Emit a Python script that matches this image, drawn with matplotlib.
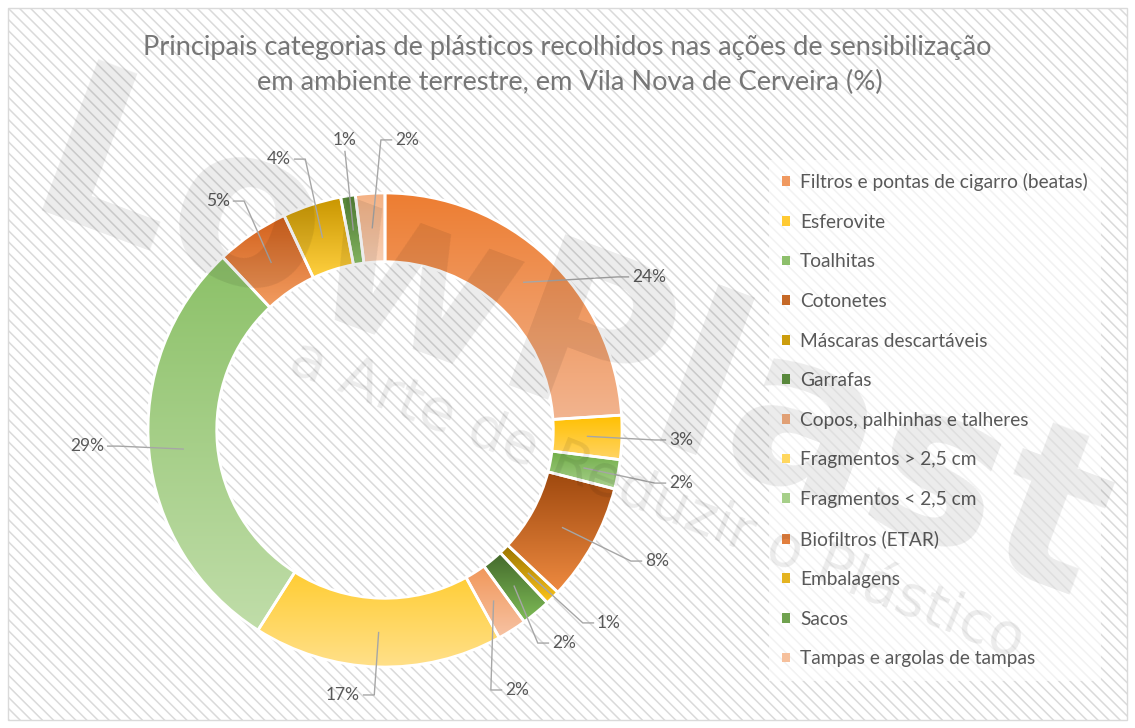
import numpy as np
import matplotlib
matplotlib.use("Agg")
import matplotlib.pyplot as plt
from matplotlib.patches import Rectangle, Patch
from matplotlib.colors import to_rgb

# Data
categories = ["Filtros e pontas de cigarro (beatas)", "Esferovite", "Toalhitas", "Cotonetes",
              "Máscaras descartáveis", "Garrafas", "Copos, palhinhas e talheres",
              "Fragmentos > 2,5 cm", "Fragmentos < 2,5 cm", "Biofiltros (ETAR)",
              "Embalagens", "Sacos", "Tampas e argolas de tampas"]
percentages = [24, 3, 2, 8, 1, 2, 2, 17, 29, 5, 4, 1, 2]

# slice gradient colours, top -> bottom
top_colors = ['#ED7D31', '#FFC000', '#70AD47', '#9E480E', '#997300', '#43682B', '#F1975A',
              '#FFCD33', '#8CC168', '#D2601A', '#C99600', '#548235', '#F4B183']
bottom_colors = ['#F2B48F', '#FFD466', '#A9D18E', '#EE8A40', '#FFC61A', '#7FBD57', '#F7C3A4',
                 '#FFE08A', '#C0DDA9', '#F29D62', '#FFD040', '#8CC168', '#F8CFB4']

# label positions (pie radius = 1), placed by hand like in the original
label_x = [1.114, 1.249, 1.249, 1.148, 0.945, 0.755, 0.557, -0.177, -1.257, -0.705, -0.447, -0.169, 0.093]
label_y = [0.646, -0.042, -0.224, -0.553, -0.814, -0.899, -1.097, -1.118, -0.068, 0.966, 1.143, 1.224, 1.224]

plt.rcParams['font.family'] = ['Lato', 'DejaVu Sans']
W, H = 1135, 728
fig = plt.figure(figsize=(W / 100, H / 100), dpi=100)
fig.patch.set_facecolor('white')

# hatched chart area with light border
plt.rcParams['hatch.linewidth'] = 1.1
bg = Rectangle((8 / W, 8 / H), (W - 16) / W, (H - 16) / H, transform=fig.transFigure,
               facecolor='white', edgecolor='#dadada', hatch='\\\\\\', lw=1, zorder=-1)
fig.patches.append(bg)

# axes so that radius 1 = 237 px, centre at (385, 430) px
scale = 237
cx, cy = 385, H - 430
xr, yr = 1.45, 1.25
ax = fig.add_axes([(cx - xr * scale) / W, (cy - yr * scale) / H, 2 * xr * scale / W, 2 * yr * scale / H])
ax.set_facecolor('none')

wedges, _ = ax.pie(percentages, radius=1, startangle=90, counterclock=False,
                   wedgeprops=dict(width=0.29, edgecolor='white', linewidth=2))

# vertical gradient inside each slice
t = np.linspace(0, 1, 256)[:, None, None]
for w, c_top, c_bot in zip(wedges, top_colors, bottom_colors):
    ext = w.get_path().get_extents()
    img = (1 - t) * np.array(to_rgb(c_top)) + t * np.array(to_rgb(c_bot))
    im = ax.imshow(img, extent=[ext.x0, ext.x1, ext.y0, ext.y1], origin='upper',
                   aspect='auto', interpolation='bilinear', zorder=1)
    im.set_clip_path(w)
    w.set_facecolor('none')
    w.set_zorder(2)

ax.set_xlim(-xr, xr)
ax.set_ylim(-yr, yr)
ax.axis('off')

# data labels with leader lines
cum = np.cumsum(percentages) - np.array(percentages) / 2
mid = np.deg2rad(90 - cum / 100 * 360)
texts = []
for p, lx, ly in zip(percentages, label_x, label_y):
    texts.append(ax.text(lx, ly, f"{p}%", ha='center', va='center', fontsize=12.5,
                         color='#595959', zorder=5))

fig.canvas.draw()
renderer = fig.canvas.get_renderer()
inv = ax.transData.inverted()
gap, elbow = 0.015, 0.045
for txt, a, lx, ly in zip(texts, mid, label_x, label_y):
    axp, ayp = 0.855 * np.cos(a), 0.855 * np.sin(a)
    bb = txt.get_window_extent(renderer).transformed(inv)
    half_w = (bb.x1 - bb.x0) / 2
    if abs(lx - axp) < half_w + gap:
        # anchor right below/above the label
        ey = bb.y0 - gap if ayp < ly else bb.y1 + gap
        xs, ys = [axp, lx], [ayp, ey]
    elif lx > axp:
        ex = bb.x0 - gap
        xs, ys = [axp, ex - elbow, ex], [ayp, ly, ly]
    else:
        ex = bb.x1 + gap
        xs, ys = [axp, ex + elbow, ex], [ayp, ly, ly]
    ax.plot(xs, ys, color='#a6a6a6', lw=1, zorder=4)

# title
title_color = '#767676'
fig.text(567 / W, 1 - 47 / H, "Principais categorias de plásticos recolhidos nas ações de sensibilização",
         ha='center', va='center', fontsize=19.6, color=title_color)
fig.text(570 / W, 1 - 82 / H, "em ambiente terrestre, em Vila Nova de Cerveira (%)",
         ha='center', va='center', fontsize=19.6, color=title_color)

# legend
handles = [Patch(facecolor=tuple((np.array(to_rgb(a)) + np.array(to_rgb(b))) / 2), edgecolor='none')
           for a, b in zip(top_colors, bottom_colors)]
leg = fig.legend(handles, categories, loc='upper left', bbox_to_anchor=(759 / W, 1 - 150 / H),
                 fontsize=13.8, labelcolor='#595959', frameon=True, facecolor='white', framealpha=0.65,
                 edgecolor='none', fancybox=False, handlelength=0.4, handleheight=0.4,
                 handletextpad=0.55, labelspacing=1.18, borderpad=0.7)

# watermark
fig.text(570 / W, 1 - 350 / H, "LowPlast", ha='center', va='center', rotation=-20.5,
         rotation_mode='anchor', fontsize=160, fontweight='bold', family='DejaVu Sans',
         color='black', alpha=0.08, zorder=6)
fig.text(657 / W, 1 - 500 / H, "a Arte de Reduzir o Plástico", ha='center', va='center',
         rotation=-21.5, rotation_mode='anchor', fontsize=41, family='DejaVu Sans',
         color='black', alpha=0.08, zorder=6)

fig.savefig("out.png", dpi=100, facecolor=fig.get_facecolor())
